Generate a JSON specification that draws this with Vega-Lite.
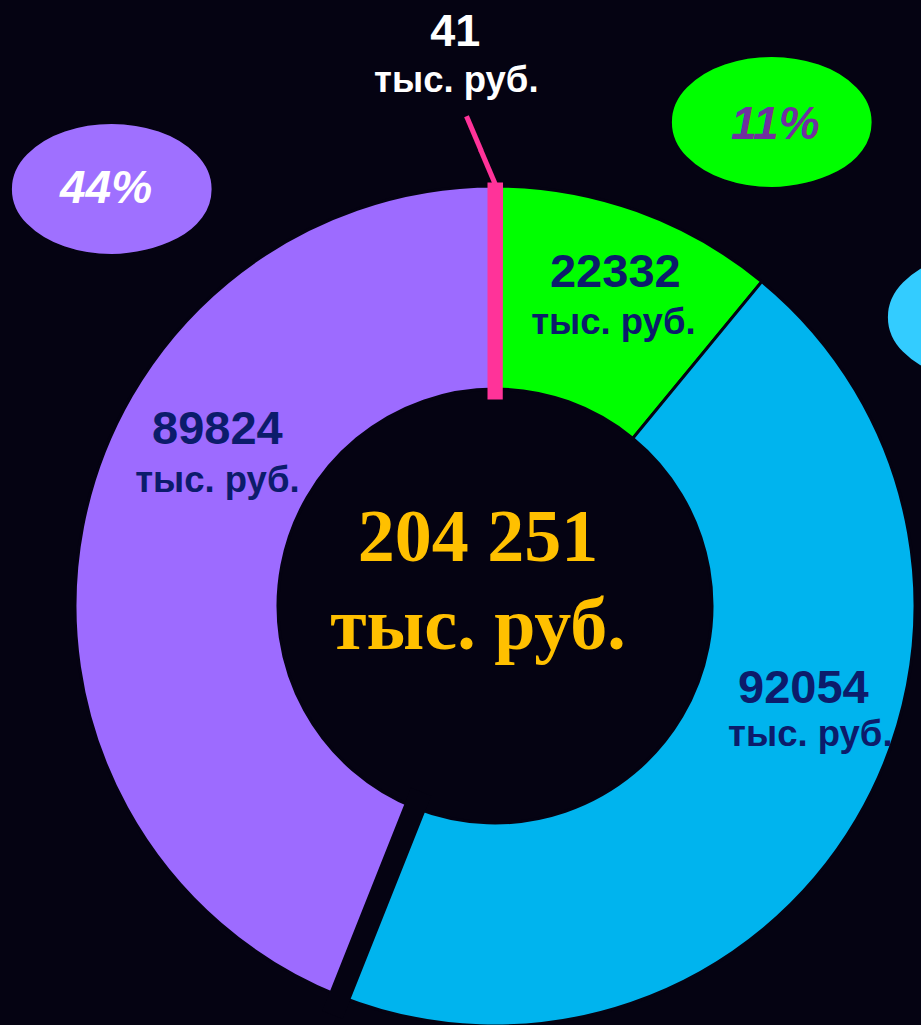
{
  "$schema": "https://vega.github.io/schema/vega-lite/v6.json",
  "width": 852,
  "height": 838,
  "autosize": {"type": "none"},
  "padding": {"left": 69, "top": 187, "right": 0, "bottom": 0},
  "background": "#050312",
  "config": {
    "view": {"stroke": null},
    "locale": {"number": {"decimal": ",", "thousands": " ", "grouping": [3], "currency": ["", " ₽"]}}
  },
  "data": {
    "values": [
      {"cat": "pink", "idx": 1, "value": 41},
      {"cat": "green", "idx": 2, "value": 22332},
      {"cat": "cyan", "idx": 3, "value": 92054},
      {"cat": "purple", "idx": 4, "value": 89824}
    ]
  },
  "transform": [
    {"joinaggregate": [{"op": "sum", "field": "value", "as": "total"}]},
    {"calculate": "datum.value / datum.total", "as": "share"}
  ],
  "layer": [
    {
      "mark": {"type": "arc", "outerRadius": 420, "innerRadius": 217, "stroke": "#050312", "strokeWidth": 3},
      "encoding": {
        "theta": {"field": "value", "type": "quantitative", "stack": true},
        "order": {"field": "idx", "type": "quantitative"},
        "color": {"field": "cat", "type": "nominal", "legend": null,
          "scale": {"domain": ["pink", "green", "cyan", "purple"], "range": ["#ff3399", "#00ff00", "#00b4ee", "#9d6bff"]}}
      }
    },
    {
      "transform": [
        {"window": [{"op": "sum", "field": "value", "as": "cum"}], "sort": [{"field": "idx"}]},
        {"filter": "datum.cat === 'cyan'"}
      ],
      "mark": {"type": "arc", "outerRadius": 440, "innerRadius": 200, "fill": "#050312", "stroke": "#050312", "strokeWidth": 22, "strokeJoin": "bevel"},
      "encoding": {
        "theta": {"field": "cum", "type": "quantitative"},
        "theta2": {"field": "cum"}
      }
    },
    {
      "mark": {"type": "arc", "outerRadius": 416, "innerRadius": 214, "fill": "#ff3399", "fillOpacity": 0, "stroke": "#ff3399", "strokeWidth": 15, "strokeJoin": "miter"},
      "encoding": {
        "theta": {"field": "value", "type": "quantitative", "stack": true},
        "order": {"field": "idx", "type": "quantitative"},
        "strokeOpacity": {"condition": {"test": "datum.cat === 'pink'", "value": 1}, "value": 0}
      }
    },
    {
      "mark": {"type": "text", "radius": 455, "font": "DejaVu Sans", "fontSize": 60, "color": "#ff3399", "align": "center", "baseline": "middle", "angle": 67, "dx": -6.6, "dy": 15.6},
      "encoding": {
        "theta": {"field": "value", "type": "quantitative", "stack": true},
        "order": {"field": "idx", "type": "quantitative"},
        "text": {"condition": {"test": "datum.cat === 'pink'", "value": "──"}, "value": ""}
      }
    },
    {
      "mark": {"type": "text", "radius": 575, "font": "Liberation Sans", "fontWeight": "bold", "fontSize": 45, "color": "#ffffff", "align": "center", "baseline": "middle", "dx": -40, "dy": 1},
      "encoding": {
        "theta": {"field": "value", "type": "quantitative", "stack": true},
        "order": {"field": "idx", "type": "quantitative"},
        "text": {"condition": {"test": "datum.cat === 'pink'", "field": "value", "type": "quantitative", "format": "d"}, "value": ""}
      }
    },
    {
      "mark": {"type": "text", "radius": 522, "font": "Liberation Sans", "fontWeight": "bold", "fontSize": 36.5, "color": "#ffffff", "align": "center", "baseline": "middle", "dx": -39, "dy": -3},
      "encoding": {
        "theta": {"field": "value", "type": "quantitative", "stack": true},
        "order": {"field": "idx", "type": "quantitative"},
        "text": {"condition": {"test": "datum.cat === 'pink'", "value": "тыс. руб."}, "value": ""}
      }
    },
    {
      "mark": {"type": "text", "radius": 356, "font": "Liberation Sans", "fontWeight": "bold", "fontSize": 47, "color": "#0c1c6b", "align": "center", "baseline": "middle", "dx": 0, "dy": 2},
      "encoding": {
        "theta": {"field": "value", "type": "quantitative", "stack": true},
        "order": {"field": "idx", "type": "quantitative"},
        "text": {"condition": {"test": "datum.cat === 'green'", "field": "value", "type": "quantitative", "format": "d"}, "value": ""}
      }
    },
    {
      "mark": {"type": "text", "radius": 300, "font": "Liberation Sans", "fontWeight": "bold", "fontSize": 36.5, "color": "#0c1c6b", "align": "center", "baseline": "middle", "dx": 17, "dy": -1},
      "encoding": {
        "theta": {"field": "value", "type": "quantitative", "stack": true},
        "order": {"field": "idx", "type": "quantitative"},
        "text": {"condition": {"test": "datum.cat === 'green'", "value": "тыс. руб."}, "value": ""}
      }
    },
    {
      "mark": {"type": "text", "radius": 300, "font": "Liberation Sans", "fontWeight": "bold", "fontSize": 47, "color": "#0c1c6b", "align": "center", "baseline": "middle", "dx": 50, "dy": -70},
      "encoding": {
        "theta": {"field": "value", "type": "quantitative", "stack": true},
        "order": {"field": "idx", "type": "quantitative"},
        "text": {"condition": {"test": "datum.cat === 'cyan'", "field": "value", "type": "quantitative", "format": "d"}, "value": ""}
      }
    },
    {
      "mark": {"type": "text", "radius": 300, "font": "Liberation Sans", "fontWeight": "bold", "fontSize": 36.5, "color": "#0c1c6b", "align": "center", "baseline": "middle", "dx": 57, "dy": -24},
      "encoding": {
        "theta": {"field": "value", "type": "quantitative", "stack": true},
        "order": {"field": "idx", "type": "quantitative"},
        "text": {"condition": {"test": "datum.cat === 'cyan'", "value": "тыс. руб."}, "value": ""}
      }
    },
    {
      "mark": {"type": "text", "radius": 300, "font": "Liberation Sans", "fontWeight": "bold", "fontSize": 47, "color": "#0c1c6b", "align": "center", "baseline": "middle", "dx": 17, "dy": -120},
      "encoding": {
        "theta": {"field": "value", "type": "quantitative", "stack": true},
        "order": {"field": "idx", "type": "quantitative"},
        "text": {"condition": {"test": "datum.cat === 'purple'", "field": "value", "type": "quantitative", "format": "d"}, "value": ""}
      }
    },
    {
      "mark": {"type": "text", "radius": 300, "font": "Liberation Sans", "fontWeight": "bold", "fontSize": 36.5, "color": "#0c1c6b", "align": "center", "baseline": "middle", "dx": 17, "dy": -69},
      "encoding": {
        "theta": {"field": "value", "type": "quantitative", "stack": true},
        "order": {"field": "idx", "type": "quantitative"},
        "text": {"condition": {"test": "datum.cat === 'purple'", "value": "тыс. руб."}, "value": ""}
      }
    },
    {
      "mark": {"type": "text", "radius": 560, "font": "DejaVu Sans", "fontSize": 245, "color": "#00ff00", "align": "center", "baseline": "middle", "dx": 87, "dy": 48},
      "encoding": {
        "theta": {"field": "value", "type": "quantitative", "stack": true},
        "order": {"field": "idx", "type": "quantitative"},
        "text": {"condition": {"test": "datum.cat === 'green'", "value": "⬬"}, "value": ""}
      }
    },
    {
      "mark": {"type": "text", "radius": 560, "font": "DejaVu Sans", "fontSize": 245, "color": "#9f70ff", "align": "center", "baseline": "middle", "dx": 167, "dy": -307},
      "encoding": {
        "theta": {"field": "value", "type": "quantitative", "stack": true},
        "order": {"field": "idx", "type": "quantitative"},
        "text": {"condition": {"test": "datum.cat === 'purple'", "value": "⬬"}, "value": ""}
      }
    },
    {
      "mark": {"type": "text", "radius": 560, "font": "DejaVu Sans", "fontSize": 245, "color": "#33ccff", "align": "center", "baseline": "middle", "dx": 10, "dy": -569},
      "encoding": {
        "theta": {"field": "value", "type": "quantitative", "stack": true},
        "order": {"field": "idx", "type": "quantitative"},
        "text": {"condition": {"test": "datum.cat === 'cyan'", "value": "⬬"}, "value": ""}
      }
    },
    {
      "mark": {"type": "text", "radius": 560, "font": "Liberation Sans", "fontWeight": "bold", "fontStyle": "italic", "fontSize": 46, "color": "#7030a0", "align": "center", "baseline": "middle", "dx": 91, "dy": 46},
      "encoding": {
        "theta": {"field": "value", "type": "quantitative", "stack": true},
        "order": {"field": "idx", "type": "quantitative"},
        "text": {"condition": {"test": "datum.cat === 'green'", "field": "share", "type": "quantitative", "format": ".0%"}, "value": ""}
      }
    },
    {
      "mark": {"type": "text", "radius": 560, "font": "Liberation Sans", "fontWeight": "bold", "fontStyle": "italic", "fontSize": 46, "color": "#ffffff", "align": "center", "baseline": "middle", "dx": 161, "dy": -312},
      "encoding": {
        "theta": {"field": "value", "type": "quantitative", "stack": true},
        "order": {"field": "idx", "type": "quantitative"},
        "text": {"condition": {"test": "datum.cat === 'purple'", "field": "share", "type": "quantitative", "format": ".0%"}, "value": ""}
      }
    },
    {
      "transform": [{"aggregate": [{"op": "sum", "field": "value", "as": "sum"}]}],
      "mark": {"type": "text", "font": "Liberation Serif", "fontWeight": "bold", "fontSize": 74, "color": "#ffc000", "align": "center", "baseline": "middle", "dx": -17, "dy": -67},
      "encoding": {
        "text": {"field": "sum", "type": "quantitative", "format": ",d"}
      }
    },
    {
      "transform": [{"aggregate": [{"op": "sum", "field": "value", "as": "sum"}]}],
      "mark": {"type": "text", "font": "Liberation Serif", "fontWeight": "bold", "fontSize": 74, "color": "#ffc000", "align": "center", "baseline": "middle", "dx": -17, "dy": 21},
      "encoding": {
        "text": {"value": "тыс. руб."}
      }
    }
  ]
}
